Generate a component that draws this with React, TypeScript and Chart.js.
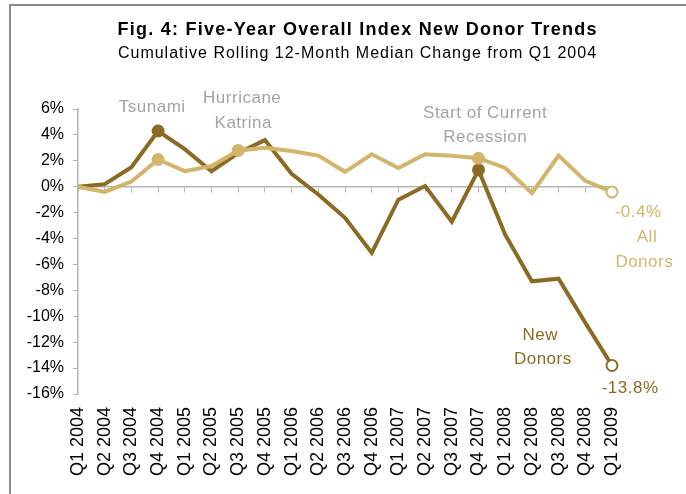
import React, { useEffect, useRef } from "react";
import { Chart, registerables } from "chart.js";

Chart.register(...registerables);

const categories = [
  "Q1 2004", "Q2 2004", "Q3 2004", "Q4 2004",
  "Q1 2005", "Q2 2005", "Q3 2005", "Q4 2005",
  "Q1 2006", "Q2 2006", "Q3 2006", "Q4 2006",
  "Q1 2007", "Q2 2007", "Q3 2007", "Q4 2007",
  "Q1 2008", "Q2 2008", "Q3 2008", "Q4 2008",
  "Q1 2009",
];

const newDonors = [0, 0.2, 1.5, 4.3, 2.9, 1.2, 2.6, 3.6, 1.0, -0.6, -2.4, -5.1, -1.0, 0.05, -2.7, 1.3, -3.7, -7.3, -7.1, -10.5, -13.8];
const allDonors = [0, -0.4, 0.4, 2.1, 1.2, 1.6, 2.8, 3.0, 2.75, 2.4, 1.15, 2.5, 1.45, 2.5, 2.4, 2.2, 1.45, -0.5, 2.4, 0.45, -0.4];

const yMin = -16;
const yMax = 6;
const yStep = 2;

const highlightNew = [3, 15];
const highlightAll = [3, 6, 15];

const titleText = "Fig. 4: Five-Year Overall Index New Donor Trends";
const subtitleText = "Cumulative Rolling 12-Month Median Change from Q1 2004";

const DARK = "#8b6b23";
const LIGHT = "#d3b46b";
const GRAY = "#a3a3a3";
const AXIS = "#b5b5b5";
const FONT = '"Liberation Sans", Arial, sans-serif';

// annotation text anchored in data space (category index, value)
const noteTexts = ["Tsunami", "Hurricane", "Katrina", "Start of Current", "Recession", "-0.4%", "All", "Donors", "New", "Donors", "-13.8%"];
const noteAt = [2.77, 6.14, 6.18, 15.24, 15.24, 20.97, 21.3, 21.2, 17.3, 17.4, 20.67];
const noteValue = [6.1, 6.8, 4.9, 5.7, 3.85, -2.0, -3.9, -5.85, -11.5, -13.35, -15.55];
const noteColor = [GRAY, GRAY, GRAY, GRAY, GRAY, LIGHT, LIGHT, LIGHT, DARK, DARK, DARK];

const pointStyleFor = (highlights: number[], color: string) => ({
  pointRadius: (c: any) => (c.dataIndex === categories.length - 1 ? 5.5 : highlights.includes(c.dataIndex) ? 6.5 : 0),
  pointBackgroundColor: (c: any) => (c.dataIndex === categories.length - 1 ? "#ffffff" : color),
  pointBorderColor: color,
  pointBorderWidth: (c: any) => (c.dataIndex === categories.length - 1 ? 2 : 0),
});

function drawSpaced(ctx: any, text: string, cx: number, cy: number, spacing: number) {
  ctx.letterSpacing = `${spacing}px`;
  const w = ctx.measureText(text).width - spacing;
  ctx.textAlign = "left";
  ctx.fillText(text, cx - w / 2, cy);
  ctx.letterSpacing = "0px";
}

export default function App() {
  const ref = useRef<HTMLCanvasElement | null>(null);

  useEffect(() => {
    document.body.style.margin = "0";
    const canvas = ref.current;
    if (!canvas) return;

    const framePlugin = {
      id: "frame",
      beforeDraw(chart: any) {
        const ctx = chart.ctx;
        ctx.save();
        ctx.fillStyle = "#ffffff";
        ctx.fillRect(0, 0, chart.width, chart.height);
        ctx.strokeStyle = "#8c8c8c";
        ctx.lineWidth = 2;
        ctx.beginPath();
        ctx.moveTo(10, chart.height);
        ctx.lineTo(10, 5);
        ctx.lineTo(chart.width, 5);
        ctx.stroke();
        ctx.fillStyle = "#000000";
        ctx.textBaseline = "middle";
        ctx.font = `bold 18px ${FONT}`;
        drawSpaced(ctx, titleText, 357, 30, 1.25);
        ctx.font = `16px ${FONT}`;
        drawSpaced(ctx, subtitleText, 357, 54, 1);
        ctx.restore();
      },
      afterDatasetsDraw(chart: any) {
        const ctx = chart.ctx;
        const xs = chart.scales.x;
        const ys = chart.scales.y;
        ctx.save();
        ctx.font = `17px ${FONT}`;
        ctx.textBaseline = "middle";
        noteTexts.forEach((t, i) => {
          ctx.fillStyle = noteColor[i];
          drawSpaced(ctx, t, xs.getPixelForValue(noteAt[i]), ys.getPixelForValue(noteValue[i]), 0.5);
        });
        ctx.restore();
      },
    };

    const chart = new Chart(canvas, {
      type: "line",
      data: {
        labels: categories,
        datasets: [
          {
            label: "All Donors",
            data: allDonors,
            borderColor: LIGHT,
            backgroundColor: LIGHT,
            borderWidth: 4,
            tension: 0,
            order: 0,
            xAxisID: "x",
            ...pointStyleFor(highlightAll, LIGHT),
          } as any,
          {
            label: "New Donors",
            data: newDonors,
            borderColor: DARK,
            backgroundColor: DARK,
            borderWidth: 4,
            tension: 0,
            order: 1,
            xAxisID: "x",
            ...pointStyleFor(highlightNew, DARK),
          } as any,
        ],
      },
      options: {
        animation: false,
        responsive: false,
        events: [],
        layout: { padding: { top: 109, right: 74, left: 0, bottom: 0 } },
        plugins: {
          legend: { display: false },
          tooltip: { enabled: false },
          title: { display: false },
        },
        scales: {
          x: {
            type: "category",
            position: { y: 0 } as any,
            offset: false,
            grid: { display: true, drawOnChartArea: false, drawTicks: true, tickLength: 5, color: AXIS },
            border: { display: true, color: AXIS, width: 1.5 },
            ticks: { display: false },
          },
          x2: {
            type: "category",
            position: "bottom",
            labels: categories,
            offset: false,
            grid: { display: false, drawTicks: false },
            border: { display: false },
            ticks: {
              autoSkip: false,
              maxRotation: 90,
              minRotation: 90,
              padding: 13,
              color: "#000000",
              font: { family: FONT, size: 18 },
            },
            afterFit(scale: any) {
              scale.height = 100;
            },
          },
          y: {
            type: "linear",
            min: yMin,
            max: yMax,
            grid: { display: true, drawOnChartArea: false, drawTicks: true, tickLength: 5, color: AXIS },
            border: { display: true, color: AXIS, width: 1.5 },
            ticks: {
              stepSize: yStep,
              padding: 9,
              color: "#000000",
              font: { family: FONT, size: 16 },
              callback: (v: any) => `${v}%`,
            },
            afterFit(scale: any) {
              scale.width = 78;
            },
          },
        },
      } as any,
      plugins: [framePlugin],
    });

    return () => chart.destroy();
  }, []);

  return (
    <div style={{ width: 686, height: 494 }}>
      <canvas ref={ref} width={686} height={494} style={{ display: "block", width: 686, height: 494 }} />
    </div>
  );
}
